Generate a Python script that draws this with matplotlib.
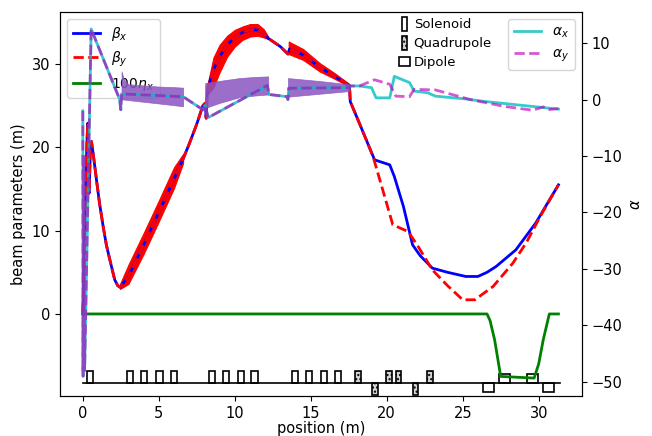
#!/usr/bin/env python3
"""Beam optics plot: beta / alpha / dispersion along the line."""

import matplotlib
matplotlib.use('Agg')
import matplotlib.pyplot as plt
import numpy as np
from matplotlib.patches import Rectangle
from matplotlib.legend_handler import HandlerPatch

plt.rcParams['font.family'] = ['DejaVu Sans']
plt.rcParams['font.size'] = 10.5

# --- beta functions (m), common part up to 17.6 m ---
s_b = [0.0, 0.05, 0.12, 0.2, 0.28, 0.33, 0.36, 0.42, 0.5, 0.57, 0.7, 0.9, 1.1,
       1.34, 1.55, 1.78, 2.1, 2.3, 2.45, 3.0, 4.0, 5.0, 6.0, 6.6, 7.0, 7.5,
       7.9, 8.05, 8.12, 8.2, 8.6, 9.0, 9.5, 10.0, 10.5, 11.0, 11.5, 11.9,
       12.2, 13.0, 13.5, 13.6, 14.5, 15.6, 16.5, 17.55]
beta_common = [0.0, 3.0, 10.0, 16.0, 21.0, 22.9, 15.0, 14.5, 20.0, 20.7, 19.0,
               16.1, 13.3, 10.5, 8.3, 6.5, 4.1, 3.4, 3.2, 4.5, 8.3, 12.2, 16.2,
               18.6, 20.4, 22.8, 25.0, 25.3, 23.5, 27.0, 29.3, 30.9, 32.3, 33.2,
               33.8, 34.1, 34.1, 33.7, 33.1, 32.1, 31.2, 31.8, 31.1, 29.6, 28.6,
               27.4]

s_bx = [17.6, 18.2, 19.2, 20.2, 20.5, 21.1, 21.7, 22.2, 23.0, 24.0, 25.2, 26.0,
        26.6, 27.2, 28.5, 29.8, 31.3]
beta_x = [25.5, 22.9, 18.5, 17.9, 16.5, 12.9, 8.3, 7.0, 5.5, 5.0, 4.5, 4.5,
          5.0, 5.7, 7.7, 10.9, 15.5]
s_by = [17.6, 18.2, 19.1, 19.8, 20.4, 21.4, 22.0, 23.0, 24.0, 25.0, 25.8, 27.0,
        28.3, 29.2, 30.1, 31.3]
beta_y = [25.5, 22.9, 18.9, 14.5, 10.7, 9.9, 8.3, 5.3, 3.4, 1.7, 1.7, 3.3,
          6.1, 8.6, 11.7, 15.5]

# fast oscillation envelopes of beta_y inside the solenoids
bandA_s = [2.45, 3.0, 4.0, 5.0, 6.0, 6.6]
bandA_lo = [3.0, 3.6, 7.2, 11.1, 15.1, 18.1]
bandA_hi = [3.6, 5.9, 9.7, 13.6, 17.6, 19.2]
bandB_s = [8.2, 8.6, 9.0, 9.5, 10.0, 10.5, 11.0, 11.5, 11.9, 12.2]
bandB_lo = [26.3, 27.2, 29.0, 30.9, 32.1, 32.9, 33.3, 33.4, 33.2, 33.0]
bandB_hi = [27.5, 30.8, 32.3, 33.4, 34.1, 34.5, 34.8, 34.8, 34.2, 33.3]
bandC_s = [13.55, 14.5, 15.6, 16.5, 17.55]
bandC_lo = [31.2, 30.5, 29.1, 28.3, 27.3]
bandC_hi = [32.7, 31.8, 30.1, 29.0, 27.6]

# dispersion x100
s_eta = [0.0, 17.6, 26.6, 26.8, 27.1, 27.5, 29.7, 30.0, 30.3, 30.7, 31.3]
eta = [0.0, 0.0, 0.0, -0.8, -3.1, -7.5, -7.7, -6.0, -3.1, 0.0, 0.0]

# --- alpha functions ---
s_a = [0.0, 0.02, 0.06, 0.12, 0.55, 2.43, 2.5, 2.55, 6.6, 7.9, 8.05, 8.25,
       12.15, 12.25, 13.45, 13.5, 13.55, 17.55, 17.6]
alpha_common = [-2.0, -49.0, -10.0, -48.0, 12.5, 0.0, -1.8, 1.0, 0.5, -1.8,
                -1.0, -3.2, 2.5, 0.9, 0.5, 0.0, 2.0, 2.1, 2.4]

aA_s = [2.55, 2.7, 3.0, 4.0, 5.0, 6.0, 6.6]
aA_hi = [5.0, 3.6, 2.7, 2.5, 2.3, 2.2, 2.1]
aA_lo = [0.0, 0.0, -0.1, -0.4, -0.7, -1.0, -1.2]
aB_s = [8.05, 9.0, 10.3, 11.3, 12.2]
aB_hi = [2.9, 3.3, 3.8, 4.0, 4.1]
aB_lo = [-1.5, -0.6, 0.4, 0.7, 0.9]
aC_s = [13.5, 15.5, 17.55]
aC_hi = [3.8, 3.3, 2.7]
aC_lo = [0.5, 1.0, 1.5]

s_ax = [17.6, 18.2, 19.0, 19.3, 20.2, 20.5, 21.5, 21.8, 22.7, 23.2, 25.2,
        26.3, 31.3]
alpha_x = [2.4, 2.4, 2.1, 0.3, 0.3, 4.1, 3.0, 1.5, 1.2, 0.6, 0.1, -0.3, -1.7]
s_ay = [17.6, 18.2, 19.2, 20.2, 20.6, 21.5, 21.8, 23.2, 25.5, 27.7, 29.6,
        30.3, 30.6, 31.3]
alpha_y = [2.4, 2.4, 3.5, 2.7, 0.6, 0.5, 1.8, 1.7, 0.0, -1.2, -1.9, -1.3,
           -1.8, -1.6]

# --- lattice elements ---
solenoids = [0.47, 3.1, 4.05, 5.05, 6.0, 8.5, 9.4, 10.4, 11.3, 13.95, 14.9,
             15.85, 16.8]
quads = [18.1, 19.23, 20.17, 20.77, 21.9, 22.85]
quad_side = [1, -1, 1, 1, -1, 1]
dipoles = [26.7, 27.75, 29.6, 30.65]
dipole_side = [-1, 1, 1, -1]
line_end = 31.4
base = -8.3

fig = plt.figure(figsize=(6.52, 4.36), dpi=100)
ax1 = fig.add_axes([60 / 652, 40 / 436, 522 / 652, 384 / 436])
ax2 = ax1.twinx()

bx_s = np.concatenate([s_b, s_bx])
by_s = np.concatenate([s_b, s_by])
ax1.plot(bx_s, np.concatenate([beta_common, beta_x]), 'b-', lw=2,
         label=r'$\beta_x$')
ax1.plot(by_s, np.concatenate([beta_common, beta_y]), 'r--', lw=2,
         label=r'$\beta_y$')
for xs, lo, hi in [(bandA_s, bandA_lo, bandA_hi), (bandB_s, bandB_lo, bandB_hi),
                   (bandC_s, bandC_lo, bandC_hi)]:
    ax1.fill_between(xs, lo, hi, color='r', lw=0.8, edgecolor='r')
ax1.plot(s_eta, eta, 'g-', lw=2, label=r'$100\eta_x$')

# lattice drawing
ax1.plot([0, line_end], [base, base], 'k-', lw=1.2)
sol_w, sol_h = 0.4, 1.4
for c in solenoids:
    ax1.add_patch(Rectangle((c - sol_w / 2, base), sol_w, sol_h,
                            fc='white', ec='k', lw=1.2))
q_w, q_h = 0.38, 1.4
for c, sd in zip(quads, quad_side):
    ax1.add_patch(Rectangle((c - q_w / 2, base), q_w, sd * q_h,
                            fc='lightgray', ec='k', lw=1.2, hatch='....'))
d_w, d_h = 0.75, 1.05
for c, sd in zip(dipoles, dipole_side):
    ax1.add_patch(Rectangle((c - d_w / 2, base), d_w, sd * d_h,
                            fc='white', ec='k', lw=1.2))

ax1.set_xlim(-1.5, 32.85)
ax1.set_ylim(-9.85, 36.25)
ax1.set_xlabel('position (m)', labelpad=0)
ax1.set_ylabel('beam parameters (m)')
ax1.set_yticks([0, 10, 20, 30])

# alpha on right axis
purple = '#8a55c0'
ax2.plot(np.concatenate([s_a, s_ax]), np.concatenate([alpha_common, alpha_x]),
         'c-', lw=2, alpha=0.8, label=r'$\alpha_x$')
ax2.plot(np.concatenate([s_a, s_ay]), np.concatenate([alpha_common, alpha_y]),
         'm--', lw=2, alpha=0.65, label=r'$\alpha_y$')
for xs, lo, hi in [(aA_s, aA_lo, aA_hi), (aB_s, aB_lo, aB_hi),
                   (aC_s, aC_lo, aC_hi)]:
    ax2.fill_between(xs, lo, hi, color=purple, alpha=0.85, lw=0.5,
                     edgecolor=purple)
ax2.set_ylim(-52.5, 15.5)
ax2.set_yticks([-50, -40, -30, -20, -10, 0, 10])
ax2.set_ylabel(r'$\alpha$')

ax1.legend(loc='upper left', fontsize=10)
ax2.legend(loc='upper right', fontsize=10)


def rect_handle(wf, hf):
    def make(legend, orig_handle, xdescent, ydescent, width, height, fontsize):
        w, h = width * wf, height * hf
        return Rectangle((-xdescent + (width - w) / 2, -ydescent + (height - h) / 2),
                         w, h)
    return make


h_sol = Rectangle((0, 0), 1, 1, fc='white', ec='k', lw=1.2)
h_quad = Rectangle((0, 0), 1, 1, fc='lightgray', ec='k', lw=1.2, hatch='....')
h_dip = Rectangle((0, 0), 1, 1, fc='white', ec='k', lw=1.2)
fig.legend([h_sol, h_quad, h_dip], ['Solenoid', 'Quadrupole', 'Dipole'],
           handler_map={h_sol: HandlerPatch(patch_func=rect_handle(0.55, 1.5)),
                        h_quad: HandlerPatch(patch_func=rect_handle(0.55, 1.5)),
                        h_dip: HandlerPatch(patch_func=rect_handle(1.0, 1.0))},
           loc='upper left', bbox_to_anchor=(0.594, 0.985), frameon=False,
           fontsize=9.5, handlelength=0.8, handletextpad=0.3, labelspacing=0.45)

fig.savefig('out.png', dpi=100)
